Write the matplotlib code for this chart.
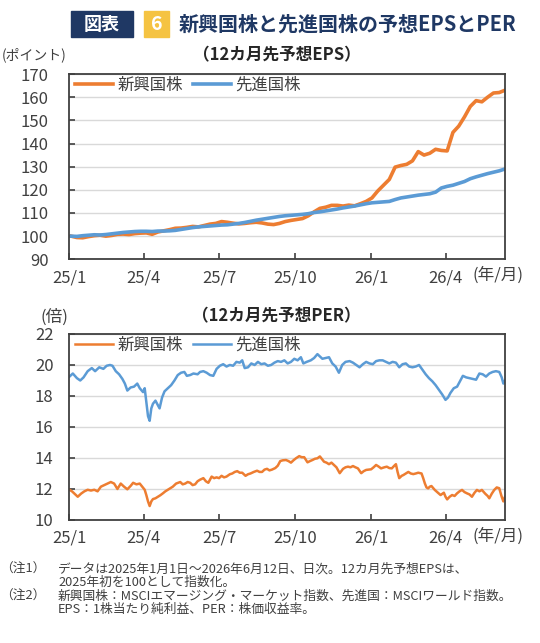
import numpy as np
import pandas as pd
import matplotlib
matplotlib.use('Agg')
import matplotlib.pyplot as plt
from matplotlib.patches import Rectangle

plt.rcParams['font.family'] = ['Noto Sans CJK JP', 'DejaVu Sans']

# 12カ月先予想EPS（週次で読み取り、2025年初=100）
eps_dates = pd.date_range('2025-01-03', '2026-06-12', freq='7D')
eps_em = [100.0, 99.4, 99.3, 99.8, 100.2, 100.4, 100.0, 100.3, 100.8, 100.9,
          100.7, 101.1, 101.3, 101.4, 100.8, 101.8, 102.3, 102.8, 103.4, 103.5,
          103.8, 104.2, 104.0, 104.6, 105.2, 105.5, 106.3, 106.0, 105.6, 105.3,
          105.5, 105.8, 106.0, 105.7, 105.2, 105.0, 105.5, 106.3, 106.8, 107.2,
          107.6, 108.8, 110.5, 112.0, 112.5, 113.3, 113.3, 113.0, 113.4, 113.1,
          114.0, 115.0, 116.5, 119.5, 122.0, 124.5, 129.8, 130.5, 131.0, 132.5,
          136.5, 135.0, 135.8, 137.5, 137.0, 136.8, 144.8, 147.5, 151.5, 156.0,
          158.5, 158.0, 160.0, 161.8, 162.0, 163.0]
eps_dm = [100.0, 99.9, 100.2, 100.4, 100.6, 100.5, 100.7, 101.0, 101.3, 101.6,
          101.8, 102.0, 102.1, 102.1, 102.0, 102.2, 102.2, 102.3, 102.5, 102.9,
          103.3, 103.7, 104.0, 104.2, 104.4, 104.6, 104.8, 104.9, 105.2, 105.5,
          105.9, 106.4, 106.9, 107.3, 107.7, 108.1, 108.5, 108.8, 109.0, 109.2,
          109.4, 109.7, 110.2, 110.5, 110.9, 111.3, 111.7, 112.2, 112.6, 113.0,
          113.5, 114.0, 114.4, 114.6, 114.8, 115.0, 115.8, 116.5, 116.9, 117.3,
          117.7, 118.0, 118.3, 119.0, 120.8, 121.5, 122.0, 122.8, 123.6, 124.8,
          125.6, 126.3, 127.0, 127.6, 128.2, 129.0]

# 12カ月先予想PER（2025/1/1からの経過日数と値）
per_em_days = [0, 3, 6, 10, 14, 18, 22, 26, 30, 34, 38, 42, 46, 50, 54, 58, 62, 66, 70, 74,
               77, 81, 85, 88, 91, 93, 95, 97, 99, 101, 104, 107, 110, 113, 116, 119, 122, 125, 129, 134,
               137, 140, 143, 146, 149, 152, 155, 158, 162, 165, 168, 172, 175, 178, 181, 184, 187, 190, 194, 197,
               200, 203, 206, 209, 213, 216, 219, 223, 227, 230, 233, 236, 239, 242, 245, 249, 252, 255, 258, 262,
               265, 268, 271, 274, 278, 281, 284, 288, 291, 294, 297, 300, 303, 306, 308, 311, 314, 317, 320, 323,
               327, 331, 334, 337, 340, 343, 346, 349, 353, 356, 359, 362, 365, 368, 371, 374, 377, 381, 384, 387,
               390, 393, 395, 397, 399, 402, 404, 407, 410, 413, 416, 419, 422, 426, 428, 430, 432, 434, 436, 438,
               442, 446, 449, 453, 455, 457, 460, 463, 466, 469, 472, 475, 478, 481, 484, 487, 490, 493, 496, 499,
               503, 506, 508, 511, 514, 517, 520, 523, 525, 527]
per_em = [11.95, 11.85, 11.7, 11.5, 11.7, 11.85, 11.95, 11.9, 11.95, 11.85, 12.15, 12.25, 12.35, 12.45, 12.35, 12.0, 12.35, 12.15, 11.98, 12.2,
          12.4, 12.3, 12.35, 12.15, 11.95, 11.6, 11.2, 10.9, 11.2, 11.35, 11.4, 11.5, 11.6, 11.72, 11.85, 11.95, 12.05, 12.15, 12.35, 12.45,
          12.3, 12.35, 12.45, 12.4, 12.25, 12.3, 12.5, 12.6, 12.7, 12.5, 12.4, 12.8, 12.7, 12.75, 12.7, 12.85, 12.75, 12.8, 12.95, 13.0,
          13.1, 13.15, 13.05, 13.05, 12.85, 12.95, 13.0, 13.1, 13.18, 13.1, 13.1, 13.25, 13.3, 13.2, 13.25, 13.35, 13.5, 13.8, 13.85, 13.87,
          13.8, 13.7, 13.85, 13.98, 14.12, 14.05, 14.05, 13.72, 13.8, 13.87, 13.95, 13.98, 14.1, 13.9, 13.76, 13.7, 13.6, 13.7, 13.55, 13.4,
          13.02, 13.3, 13.4, 13.44, 13.4, 13.48, 13.4, 13.33, 13.02, 13.15, 13.23, 13.25, 13.27, 13.4, 13.55, 13.45, 13.33, 13.4, 13.44, 13.35,
          13.33, 13.5, 13.6, 13.1, 12.7, 12.85, 12.9, 13.0, 13.1, 13.0, 12.96, 13.0, 13.05, 13.0, 12.7, 12.36, 12.1, 12.04, 12.15, 12.19,
          11.94, 11.75, 11.61, 11.76, 11.5, 11.33, 11.5, 11.61, 11.55, 11.72, 11.85, 11.94, 11.8, 11.72, 11.65, 11.5, 11.75, 11.94, 11.85, 11.94,
          11.7, 11.55, 11.4, 11.7, 11.94, 12.1, 12.05, 11.5, 11.2, 11.5]

per_dm_days = [0, 4, 9, 13, 17, 22, 27, 31, 36, 41, 45, 49, 52, 56, 60, 64, 67, 70, 74, 78,
               82, 85, 89, 91, 93, 95, 97, 99, 101, 104, 107, 109, 112, 115, 119, 123, 127, 131, 135, 139,
               142, 146, 150, 155, 158, 162, 166, 170, 174, 178, 182, 186, 190, 194, 198, 202, 206, 209, 212, 216,
               220, 224, 228, 232, 236, 240, 244, 248, 252, 256, 260, 264, 268, 272, 276, 280, 283, 287, 292, 296,
               300, 303, 306, 310, 314, 318, 322, 326, 330, 334, 339, 343, 347, 351, 355, 359, 363, 367, 371, 375,
               379, 383, 387, 391, 395, 399, 403, 407, 411, 415, 419, 423, 427, 431, 435, 439, 443, 447, 451, 455,
               458, 461, 465, 469, 473, 476, 480, 484, 488, 492, 496, 500, 504, 508, 512, 516, 520, 523, 525, 527]
per_dm = [19.25, 19.45, 19.15, 19.0, 19.2, 19.6, 19.8, 19.6, 19.85, 19.75, 19.95, 20.0, 19.95, 19.6, 19.4, 19.1, 18.8, 18.35, 18.55, 18.6,
          18.8, 18.5, 18.25, 18.5, 17.6, 16.7, 16.4, 17.2, 17.5, 17.7, 17.4, 17.2, 17.9, 18.3, 18.5, 18.7, 19.0, 19.35, 19.5, 19.55,
          19.3, 19.35, 19.45, 19.4, 19.55, 19.6, 19.5, 19.35, 19.3, 19.75, 19.95, 20.05, 19.9, 20.0, 19.95, 20.2, 20.15, 20.3, 19.8, 19.85,
          20.1, 20.0, 20.2, 20.05, 20.1, 19.95, 20.0, 20.15, 20.25, 20.2, 20.3, 20.1, 20.2, 20.4, 20.3, 20.5, 20.1, 20.2, 20.3, 20.45,
          20.7, 20.55, 20.4, 20.45, 20.5, 20.1, 19.9, 19.5, 20.0, 20.2, 20.25, 20.15, 20.0, 19.85, 20.05, 20.2, 20.1, 20.05, 20.25, 20.3,
          20.3, 20.2, 20.1, 20.2, 20.15, 19.85, 20.05, 20.1, 19.9, 19.85, 19.9, 20.0, 19.7, 19.4, 19.15, 18.95, 18.7, 18.4, 18.1, 17.75,
          17.9, 18.2, 18.5, 18.6, 19.0, 19.3, 19.2, 19.15, 19.1, 19.05, 19.45, 19.4, 19.25, 19.45, 19.55, 19.6, 19.55, 19.2, 18.8, 19.0]

start = pd.Timestamp('2025-01-01')
per_em_dates = start + pd.to_timedelta(per_em_days, unit='D')
per_dm_dates = start + pd.to_timedelta(per_dm_days, unit='D')

tick_dates = pd.to_datetime(['2025-01-01', '2025-04-01', '2025-07-01', '2025-10-01', '2026-01-01', '2026-04-01'])
tick_labels = ['25/1', '25/4', '25/7', '25/10', '26/1', '26/4']

c_em = '#ED7D31'
c_dm = '#5B9BD5'
txt = '#404040'
navy = '#1F3864'

fig = plt.figure(figsize=(5.4, 6.43), dpi=100)

# タイトル
fig.add_artist(Rectangle((0.1307, 0.9428), 0.1148, 0.0395, transform=fig.transFigure, color=navy))
fig.text(0.1881, 0.9625, '図表', color='white', fontsize=13, fontweight='bold', ha='center', va='center')
fig.add_artist(Rectangle((0.2667, 0.9428), 0.0457, 0.0395, transform=fig.transFigure, color='#F5C342'))
fig.text(0.2895, 0.9625, '6', color='white', fontsize=14, fontweight='bold', ha='center', va='center')
fig.text(0.3304, 0.9627, '新興国株と先進国株の予想EPSとPER', color=navy, fontsize=14.4,
         fontweight='bold', ha='left', va='center')


def style_axes(ax, ypad):
    ax.set_xlim(pd.Timestamp('2025-01-01'), pd.Timestamp('2026-06-12'))
    ax.set_xticks(tick_dates)
    ax.set_xticklabels(tick_labels)
    ax.grid(axis='y', color='#D9D9D9', lw=1.0)
    ax.set_axisbelow(True)
    for s in ax.spines.values():
        s.set_color(txt)
        s.set_linewidth(1.3)
    ax.tick_params(axis='x', direction='in', length=4, width=1.2, color=txt,
                   labelsize=12, labelcolor=txt, pad=7)
    ax.tick_params(axis='y', direction='in', length=4, width=1.2, color=txt,
                   labelsize=12, labelcolor=txt, pad=ypad)
    leg = ax.legend(loc='center left', bbox_to_anchor=(0.012, 0.94), ncol=2, frameon=False,
                    fontsize=11.8, handlelength=2.35, handletextpad=0.25, columnspacing=0.6,
                    borderpad=0, borderaxespad=0)
    for t in leg.get_texts():
        t.set_color(txt)


# 上段: EPS
ax1 = fig.add_axes([0.1287, 0.5967, 0.8065, 0.2882])
ax1.plot(eps_dates, eps_em, color=c_em, lw=2.6, label='新興国株')
ax1.plot(eps_dates, eps_dm, color=c_dm, lw=2.6, label='先進国株')
ax1.set_ylim(90, 170)
ax1.set_yticks(np.arange(90, 171, 10))
style_axes(ax1, 15)
fig.text(0.512, 1 - 55 / 643, '（12カ月先予想EPS）', fontsize=12, fontweight='bold', color='#262626',
         ha='center', va='center')
fig.text(2 / 540, 1 - 55 / 643, '(ポイント)', fontsize=10, color=txt, ha='left', va='center')
fig.text(472 / 540, 1 - 275 / 643, '(年/月)', fontsize=12, color=txt, ha='left', va='center')

# 下段: PER
ax2 = fig.add_axes([0.1287, 0.1913, 0.8065, 0.2893])
ax2.plot(per_em_dates, per_em, color=c_em, lw=1.8, label='新興国株')
ax2.plot(per_dm_dates, per_dm, color=c_dm, lw=1.8, label='先進国株')
ax2.set_ylim(10, 22)
ax2.set_yticks(np.arange(10, 23, 2))
style_axes(ax2, 11.5)
fig.text(0.512, 1 - 316 / 643, '（12カ月先予想PER）', fontsize=12, fontweight='bold', color='#262626',
         ha='center', va='center')
fig.text(68 / 540, 1 - 317 / 643, '(倍)', fontsize=12, color=txt, ha='right', va='center')
fig.text(472 / 540, 1 - 536 / 643, '(年/月)', fontsize=12, color=txt, ha='left', va='center')

# 注記
notes = [
    ('（注1）', 'データは2025年1月1日～2026年6月12日、日次。12カ月先予想EPSは、'),
    ('', '2025年初を100として指数化。'),
    ('（注2）', '新興国株：MSCIエマージング・マーケット指数、先進国：MSCIワールド指数。'),
    ('', 'EPS：1株当たり純利益、PER：株価収益率。'),
]
note_y = [569, 582.5, 596, 609.5]
for (head, body), y in zip(notes, note_y):
    if head:
        fig.text(0 / 540, 1 - y / 643, head, fontsize=9.2, color=txt, ha='left', va='center')
    fig.text(58 / 540, 1 - y / 643, body, fontsize=9.2, color=txt, ha='left', va='center')

fig.savefig('out.png', dpi=100)
